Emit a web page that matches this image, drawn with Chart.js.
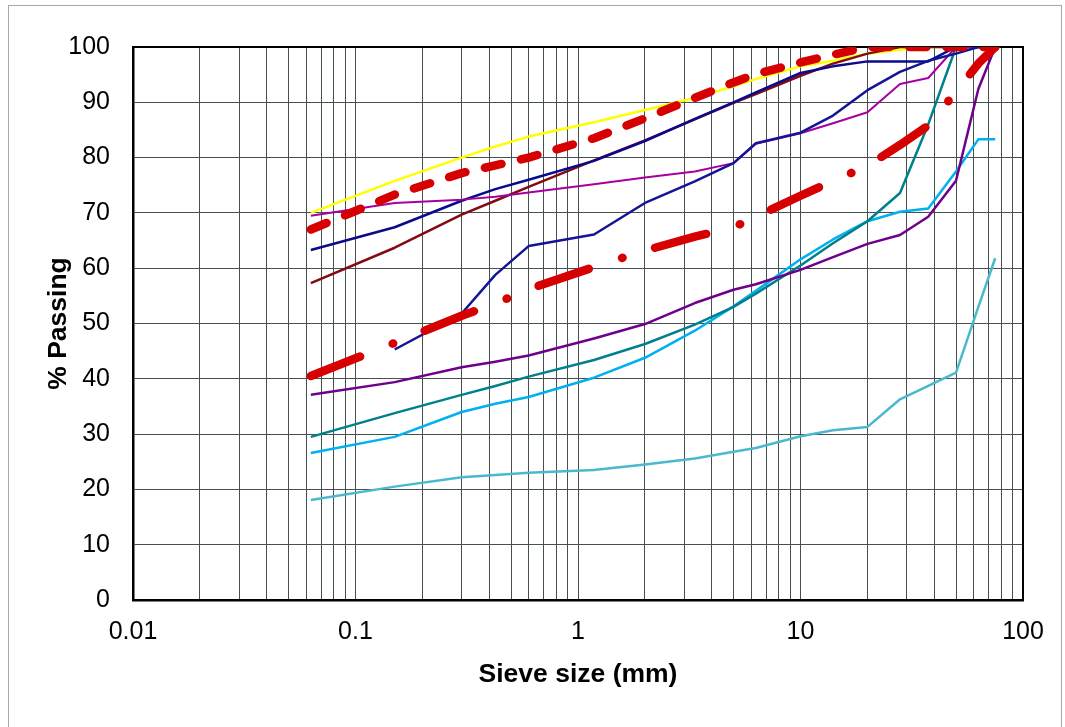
<!DOCTYPE html>
<html>
<head>
<meta charset="utf-8">
<script src="https://cdn.jsdelivr.net/npm/chart.js@4.4.0/dist/chart.umd.min.js"></script>
<style>
  html, body { margin: 0; padding: 0; background: #fff; }
  #wrap { position: relative; width: 1065px; height: 727px; }
</style>
</head>
<body>
<div id="wrap"><canvas id="grading" width="1065" height="727"></canvas></div>
<script>
// sieve sizes in mm (x values shared by every curve)
var sieves = [0.063, 0.15, 0.3, 0.425, 0.6, 1.18, 2, 3.35, 5, 6.3, 10, 14, 20, 28, 37.5, 50, 63, 75];

// % passing, one value per sieve (null = not tested)
var upperLimit = [67, 73.3, 77.2, 78.6, 80, 83.5, 87.1, 90.8, 93.6, 95.1, 97.2, 98.6, 100, 100, 100, 100, 100, 100];
var lowerLimit = [40.5, 46.5, 51.4, 53.6, 56.2, 60.2, 63.2, 65.7, 67.4, 69.3, 73.1, 75.8, 78.5, 82.3, 85.8, 91.9, 97, 100];
var sampleYellow = [70, 75.8, 80, 82, 83.8, 86.4, 88.6, 90.8, 92.9, 94.2, 96.5, 97.5, 98.8, 99.5, 100, 100, 100, 100];
var sampleMaroon = [57.3, 63.7, 69.7, 72.2, 74.7, 79.5, 83.1, 86.9, 89.9, 91.5, 94.8, 97, 98.8, 100, 100, 100, 100, 100];
var sampleNavyA = [63.3, 67.4, 72.2, 74.3, 76, 79.4, 83, 87, 90, 91.8, 95.3, 96.5, 97.4, 97.4, 97.4, 100, 100, 100];
var sampleNavyB = [null, 45.3, 51.8, 58.8, 64, 66.1, 71.8, 75.7, 79, 82.6, 84.5, 87.6, 92.2, 95.5, 97.5, 98.8, 100, 100];
var sampleMagenta = [69.5, 71.8, 72.4, 72.9, 73.7, 75.2, 76.4, 77.5, 79, 82.5, 84.4, 86.2, 88.2, 93.3, 94.4, 100, 100, 100];
var samplePurple = [37.1, 39.4, 42.1, 43.1, 44.2, 47.3, 49.9, 53.7, 56.1, 57.1, 59.7, 62, 64.4, 66, 69.3, 75.8, 92.4, 100];
var sampleTeal = [29.5, 33.8, 37.1, 38.7, 40.4, 43.4, 46.3, 49.8, 53, 55.4, 60.5, 64.5, 68.5, 73.6, 86, 100, 100, 100];
var sampleSky = [26.6, 29.5, 34, 35.5, 36.7, 40.2, 43.8, 48.7, 53.1, 55.9, 61.6, 65.2, 68.5, 70.2, 70.8, 77.5, 83.3, 83.3];
var sampleTurquoise = [18.1, 20.5, 22.2, 22.6, 23, 23.5, 24.5, 25.6, 26.8, 27.5, 29.6, 30.7, 31.3, 36.3, 38.7, 41.1, 53, 61.8];

var xTickLabels = ['0.01', '0.1', '1', '10', '100'];
var yTicks = [0, 10, 20, 30, 40, 50, 60, 70, 80, 90, 100];

function pts(values) {
  return sieves.map(function (s, i) { return { x: s, y: values[i] }; });
}

function curve(values, color, width) {
  return {
    data: pts(values),
    borderColor: color,
    borderWidth: width,
    pointRadius: 0,
    tension: 0,
    fill: false,
    borderJoinStyle: 'round'
  };
}

var upper = curve(upperLimit, 'rgb(214, 0, 0)', 8.5);
upper.borderDash = [17, 20];
upper.borderCapStyle = 'round';

var lower = curve(lowerLimit, 'rgb(214, 0, 0)', 8.5);
lower.borderDash = [53, 35, 0.5, 34];
lower.borderCapStyle = 'round';

var datasets = [
  upper,
  lower,
  curve(sampleNavyB, 'rgb(20, 20, 150)', 2.5),
  curve(sampleMagenta, 'rgb(165, 0, 160)', 2),
  curve(sampleNavyA, 'rgb(10, 10, 140)', 2.5),
  curve(sampleMaroon, 'rgb(130, 10, 20)', 2.5),
  curve(sampleYellow, 'rgb(255, 255, 0)', 2.5),
  curve(samplePurple, 'rgb(110, 0, 140)', 2.5),
  curve(sampleTeal, 'rgb(0, 128, 140)', 2.5),
  curve(sampleSky, 'rgb(0, 176, 240)', 2.5),
  curve(sampleTurquoise, 'rgb(75, 185, 205)', 2.5)
];

var framePlugin = {
  id: 'frame',
  beforeDraw: function (chart) {
    var c = chart.ctx;
    c.save();
    c.fillStyle = '#fff';
    c.fillRect(0, 0, chart.width, chart.height);
    c.strokeStyle = '#a8a8a8';
    c.lineWidth = 1;
    c.strokeRect(8.5, 5.5, 1053, 730);
    c.restore();
  },
  beforeDatasetsDraw: function (chart) {
    var a = chart.chartArea;
    var c = chart.ctx;
    c.save();
    c.strokeStyle = '#000';
    c.lineWidth = 2;
    c.strokeRect(a.left, a.top, a.right - a.left, a.bottom - a.top);
    c.restore();
  }
};

var gridColor = 'rgb(70, 80, 80)';
var fontFamily = 'Liberation Sans, Arial, sans-serif';

new Chart(document.getElementById('grading'), {
  type: 'line',
  data: { datasets: datasets },
  plugins: [framePlugin],
  options: {
    responsive: false,
    animation: false,
    devicePixelRatio: 1,
    layout: { padding: { left: 0, right: 42, top: 47, bottom: 0 } },
    plugins: {
      legend: { display: false },
      tooltip: { enabled: false }
    },
    scales: {
      x: {
        type: 'logarithmic',
        min: 0.01,
        max: 100,
        afterBuildTicks: function (scale) {
          var t = [];
          for (var e = -2; e < 2; e++) {
            for (var m = 1; m < 10; m++) t.push({ value: m * Math.pow(10, e) });
          }
          t.push({ value: 100 });
          scale.ticks = t;
        },
        afterFit: function (scale) { scale.height = 127; },
        grid: { color: gridColor, lineWidth: 1, drawTicks: false },
        border: { color: '#000', width: 2.5 },
        ticks: {
          autoSkip: false,
          maxRotation: 0,
          padding: 17,
          color: '#000',
          font: { family: fontFamily, size: 25 },
          callback: function (v) {
            var p = Math.log10(v);
            if (Math.abs(p - Math.round(p)) < 1e-6) return xTickLabels[Math.round(p) + 2];
            return '';
          }
        },
        title: {
          display: true,
          text: 'Sieve size (mm)',
          color: '#000',
          font: { family: fontFamily, size: 26.5, weight: 'bold' },
          padding: { top: 0, bottom: 36 }
        }
      },
      y: {
        min: 0,
        max: 100,
        afterBuildTicks: function (scale) {
          scale.ticks = yTicks.map(function (v) { return { value: v }; });
        },
        afterFit: function (scale) { scale.width = 133; },
        grid: { color: gridColor, lineWidth: 1, drawTicks: false },
        border: { color: '#000', width: 2.5 },
        ticks: {
          padding: 23,
          color: '#000',
          font: { family: fontFamily, size: 25 }
        },
        title: {
          display: true,
          text: '% Passing',
          color: '#000',
          font: { family: fontFamily, size: 26.5, weight: 'bold' },
          padding: { top: 43, bottom: 0 }
        }
      }
    }
  }
});
</script>
</body>
</html>
